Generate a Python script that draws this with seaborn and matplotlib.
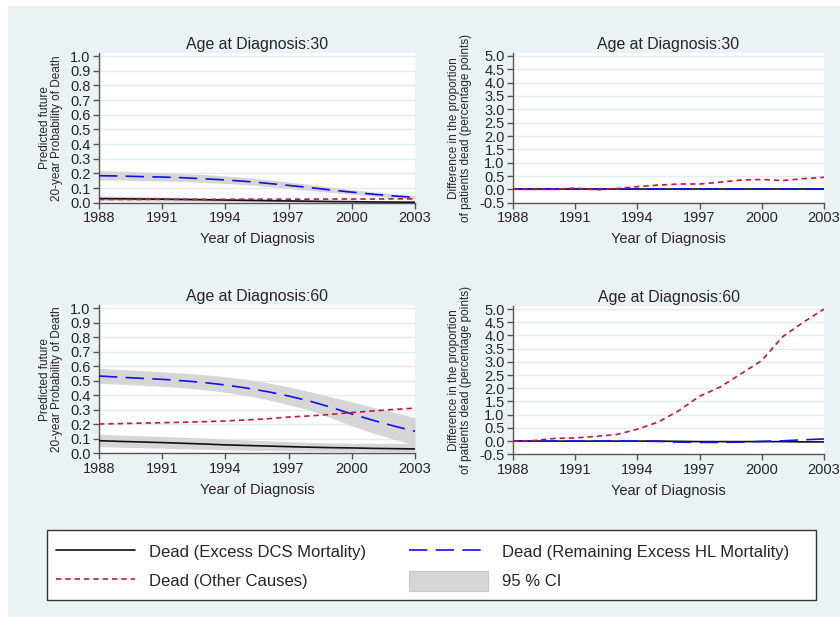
import numpy as np
import pandas as pd
import matplotlib
matplotlib.use("Agg")
import matplotlib.pyplot as plt
from matplotlib.lines import Line2D
from matplotlib.patches import Patch, Rectangle
import seaborn as sns

sns.set_style("white")
plt.rcParams["font.family"] = ["Liberation Sans", "DejaVu Sans"]

# ---- data -------------------------------------------------------------
years = list(range(1988, 2004))

# Age 30: predicted 20-year probability of death
hl30 = [0.184, 0.182, 0.178, 0.175, 0.170, 0.163, 0.155, 0.145, 0.132, 0.118, 0.103, 0.087, 0.072, 0.058, 0.046, 0.036]
hl30_lo = [0.155, 0.154, 0.151, 0.148, 0.144, 0.138, 0.131, 0.122, 0.110, 0.098, 0.084, 0.070, 0.057, 0.045, 0.034, 0.025]
hl30_hi = [0.218, 0.215, 0.210, 0.205, 0.199, 0.192, 0.183, 0.171, 0.157, 0.141, 0.124, 0.106, 0.089, 0.074, 0.060, 0.049]
dcs30 = [0.028, 0.027, 0.025, 0.024, 0.022, 0.020, 0.018, 0.016, 0.014, 0.012, 0.010, 0.008, 0.007, 0.005, 0.004, 0.003]
dcs30_lo = [0.014, 0.013, 0.012, 0.011, 0.010, 0.009, 0.008, 0.007, 0.006, 0.005, 0.004, 0.003, 0.002, 0.001, 0.001, 0.000]
dcs30_hi = [0.046, 0.044, 0.042, 0.040, 0.037, 0.034, 0.031, 0.028, 0.025, 0.022, 0.019, 0.017, 0.015, 0.013, 0.012, 0.011]
oth30 = [0.022, 0.022, 0.022, 0.023, 0.023, 0.023, 0.023, 0.024, 0.024, 0.024, 0.024, 0.025, 0.025, 0.025, 0.026, 0.026]

# Age 60: predicted 20-year probability of death
hl60 = [0.533, 0.525, 0.517, 0.510, 0.500, 0.488, 0.471, 0.450, 0.425, 0.395, 0.360, 0.318, 0.271, 0.228, 0.188, 0.152]
hl60_lo = [0.483, 0.476, 0.469, 0.462, 0.452, 0.439, 0.420, 0.398, 0.370, 0.335, 0.298, 0.245, 0.190, 0.140, 0.097, 0.057]
hl60_hi = [0.586, 0.578, 0.570, 0.562, 0.553, 0.542, 0.528, 0.510, 0.487, 0.458, 0.425, 0.390, 0.355, 0.318, 0.282, 0.246]
dcs60 = [0.087, 0.082, 0.078, 0.074, 0.069, 0.064, 0.058, 0.054, 0.050, 0.046, 0.042, 0.039, 0.037, 0.034, 0.032, 0.030]
dcs60_lo = [0.046, 0.042, 0.038, 0.035, 0.031, 0.028, 0.024, 0.021, 0.019, 0.017, 0.015, 0.014, 0.013, 0.012, 0.011, 0.011]
dcs60_hi = [0.131, 0.126, 0.121, 0.116, 0.111, 0.105, 0.098, 0.092, 0.086, 0.081, 0.076, 0.072, 0.070, 0.069, 0.069, 0.069]
oth60 = [0.202, 0.205, 0.208, 0.211, 0.214, 0.218, 0.223, 0.230, 0.238, 0.250, 0.258, 0.268, 0.281, 0.292, 0.302, 0.312]

# Differences in the proportion of patients dead (percentage points)
hl30_diff = [0.0] * 16
dcs30_diff = [0.0] * 16
oth30_diff = [0.0, 0.0, 0.0, 0.05, -0.02, 0.03, 0.10, 0.16, 0.20, 0.20, 0.27, 0.35, 0.37, 0.33, 0.40, 0.45]

hl60_diff = [0.0, 0.0, 0.0, 0.0, 0.0, 0.0, 0.0, -0.01, -0.04, -0.05, -0.05, -0.04, -0.01, 0.01, 0.05, 0.08]
dcs60_diff = [0.0, 0.0, 0.0, 0.0, 0.0, 0.0, 0.0, 0.0, -0.01, -0.02, -0.02, -0.02, -0.02, -0.02, -0.03, -0.03]
oth60_diff = [0.0, 0.02, 0.10, 0.12, 0.18, 0.25, 0.45, 0.72, 1.15, 1.70, 2.05, 2.55, 3.05, 3.95, 4.50, 5.00]

xticks = [1988, 1991, 1994, 1997, 2000, 2003]
prob_ticks = [round(0.1 * i, 1) for i in range(11)]
diff_ticks = [round(-0.5 + 0.5 * i, 1) for i in range(12)]

labels = ["Dead (Excess DCS Mortality)", "Dead (Remaining Excess HL Mortality)",
          "Dead (Other Causes)", "95 % CI"]
titles = ["Age at Diagnosis:30", "Age at Diagnosis:30", "Age at Diagnosis:60", "Age at Diagnosis:60"]
prob_label = "Predicted future\n20-year Probability of Death"
diff_label = "Difference in the proportion\nof patients dead (percentage points)"

# ---- styles -----------------------------------------------------------
BG = "#EAF2F3"
GRID = "#E3ECEE"
BAND = "#D6D6D6"
BLACK = "#111111"
BLUE = "#1010F0"
RED = "#C8143C"
LW = 1.2
BLUE_LS = (0, (11, 5))
RED_LS = (0, (3.2, 2.4))
AXC = "#555555"

W, H = 840, 617
fig = plt.figure(figsize=(W / 100, H / 100), dpi=100, facecolor="white")
fig.patches.append(Rectangle((8 / W, 0), 1, 1 - 6 / H, transform=fig.transFigure,
                             facecolor=BG, edgecolor="none", zorder=-10))


def rect(l, r, top, bot):
    return [l / W, 1 - bot / H, (r - l) / W, (bot - top) / H]


ax_tl = fig.add_axes(rect(99, 415, 53.1, 202.7))
ax_tr = fig.add_axes(rect(513, 824, 53.3, 202.7))
ax_bl = fig.add_axes(rect(99, 415, 305.4, 453.3))
ax_br = fig.add_axes(rect(513, 824, 306.4, 454.3))


def style_axes(ax, title, ylabel, yticks, ylim):
    ax.set_facecolor("white")
    ax.set_xlim(1988, 2003)
    ax.set_ylim(*ylim)
    ax.set_xticks(xticks)
    ax.set_xticklabels([str(t) for t in xticks])
    ax.set_yticks(yticks)
    ax.set_yticklabels([f"{t:.1f}" for t in yticks])
    for t in yticks:
        ax.axhline(t, color=GRID, lw=1.0, zorder=0)
    for s in ["top", "right"]:
        ax.spines[s].set_visible(False)
    for s in ["left", "bottom"]:
        ax.spines[s].set_color(AXC)
        ax.spines[s].set_linewidth(1.0)
    ax.tick_params(axis="both", direction="out", length=4, width=1.0, color=AXC,
                   pad=2, left=True, bottom=True, labelsize=10.5)
    ax.set_title(title, fontsize=11.4, pad=3)
    ax.set_xlabel("Year of Diagnosis", fontsize=10.5, labelpad=5)
    ax.set_ylabel(ylabel, fontsize=8.5, labelpad=5, linespacing=1.0)


def band(ax, lo, hi):
    ax.fill_between(years, lo, hi, color=BAND, lw=0, zorder=1)


def lines(ax, dcs, hl, oth):
    sns.lineplot(x=years, y=dcs, ax=ax, color=BLACK, lw=LW, zorder=3)
    sns.lineplot(x=years, y=hl, ax=ax, color=BLUE, lw=LW, linestyle=BLUE_LS, zorder=4)
    sns.lineplot(x=years, y=oth, ax=ax, color=RED, lw=LW, linestyle=RED_LS, zorder=5)


# top-left
band(ax_tl, hl30_lo, hl30_hi)
band(ax_tl, dcs30_lo, dcs30_hi)
lines(ax_tl, dcs30, hl30, oth30)
style_axes(ax_tl, titles[0], prob_label, prob_ticks, (0, 1.02))

# top-right
lines(ax_tr, dcs30_diff, hl30_diff, oth30_diff)
style_axes(ax_tr, titles[1], diff_label, diff_ticks, (-0.5, 5.1))

# bottom-left
band(ax_bl, hl60_lo, hl60_hi)
band(ax_bl, dcs60_lo, dcs60_hi)
lines(ax_bl, dcs60, hl60, oth60)
style_axes(ax_bl, titles[2], prob_label, prob_ticks, (0, 1.02))

# bottom-right
lines(ax_br, dcs60_diff, hl60_diff, oth60_diff)
style_axes(ax_br, titles[3], diff_label, diff_ticks, (-0.5, 5.1))

# ---- legend -----------------------------------------------------------
# framed box behind the key
fig.add_artist(Rectangle((47 / W, 1 - 600 / H), (816 - 47) / W, 70 / H,
                         transform=fig.transFigure, facecolor="white",
                         edgecolor="#333333", lw=1.0, zorder=1))

handles = [
    Line2D([], [], color=BLACK, lw=LW),
    Line2D([], [], color=RED, lw=LW, linestyle=RED_LS),
    Line2D([], [], color=BLUE, lw=LW, linestyle=BLUE_LS),
    Patch(facecolor=BAND, edgecolor="#C8C8C8", lw=0.8),
]
leg_labels = [labels[0], labels[2], labels[1], labels[3]]
leg = fig.legend(handles, leg_labels, ncol=2, loc="upper left",
                 bbox_to_anchor=(56 / W, 1 - 542 / H),
                 fontsize=12, frameon=False,
                 handlelength=4.74, handleheight=1.4, handletextpad=0.84,
                 columnspacing=2.6, labelspacing=0.6,
                 borderpad=0, borderaxespad=0)
leg.set_zorder(5)

fig.savefig("out.png", dpi=100, facecolor=fig.get_facecolor())
